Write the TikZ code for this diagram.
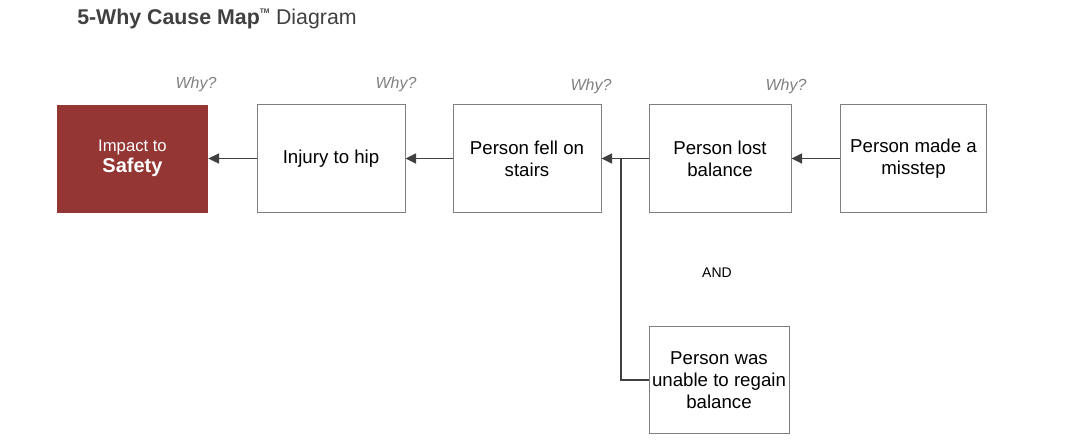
\documentclass[tikz,border=0pt]{standalone}
\usepackage{fontspec}
\setmainfont{Liberation Sans}
\usetikzlibrary{arrows.meta,positioning}
\definecolor{safetyred}{HTML}{943634}
\definecolor{boxgray}{HTML}{7F7F7F}
\definecolor{linedark}{HTML}{404040}
\definecolor{titlegray}{HTML}{404040}
\definecolor{whygray}{HTML}{808080}

\begin{document}
\begin{tikzpicture}[
    x=0.75pt, y=-0.75pt,
    >={Triangle[length=8pt,width=7.5pt]},
    every node/.style={font=\fontsize{14pt}{16.5pt}\selectfont},
    cause/.style={
        rectangle,
        draw=boxgray,
        line width=0.75pt,
        fill=white,
        align=center,
        inner sep=2pt,
        minimum width=111pt,
        minimum height=81pt
    },
    impact/.style={
        cause,
        draw=none,
        fill=safetyred,
        text=white,
        minimum width=113pt
    },
    why/.style={
        text=whygray,
        font=\fontsize{12pt}{14pt}\selectfont\itshape
    },
    link/.style={
        ->,
        draw=linedark,
        line width=1.2pt
    }
]
    \useasboundingbox (0,0) rectangle (1081,444);

    % === TITLE ===
    \node[anchor=base west, inner sep=0pt, text=titlegray, font=\fontsize{16pt}{18pt}\selectfont] (title) at (77,24)
        {\textbf{5-Why Cause Map\raisebox{1.5pt}{\textsuperscript{\tiny TM}}} Diagram};

    % === CAUSE BOXES ===
    \node[impact] (safety) at (132.5,158.5)
        {{\fontsize{12.5pt}{15pt}\selectfont Impact to}\\[-1pt]{\fontsize{15pt}{17pt}\selectfont\bfseries Safety}};
    \node[cause] (hip) at (331,158.5) {Injury to hip\vphantom{A}};
    \node[cause] (stairs) at (527,158.5) {Person fell on\\stairs};
    \node[cause, minimum width=106.5pt] (balance) at (720,158.5) {Person lost\\balance};
    \node[cause, minimum width=110pt] (misstep) at (913.5,158.5) {Person made a\\misstep};
    \node[cause, minimum width=105pt, minimum height=80pt] (regain) at (719,380)
        {Person was\\unable to regain\\balance};

    % Why? labels
    \node[why] (why1) at (196,84) {Why?};
    \node[why] (why2) at (396,84) {Why?};
    \node[why] (why3) at (591,86) {Why?};
    \node[why] (why4) at (786,86) {Why?};

    % AND label
    \node[font=\fontsize{10.5pt}{12pt}\selectfont] (andlabel) at (717,273) {AND};

    % === CONNECTORS ===
    \draw[link] (hip.west) -- (safety.east);
    \draw[link] (stairs.west) -- (hip.east);
    \draw[link] (balance.west) -- (stairs.east);
    \draw[link] (misstep.west) -- (balance.east);

    % AND branch
    \coordinate (andjoin) at (621,158.5);
    \draw[linedark, line width=1.2pt] (regain.west) -| (andjoin);
\end{tikzpicture}
\end{document}
